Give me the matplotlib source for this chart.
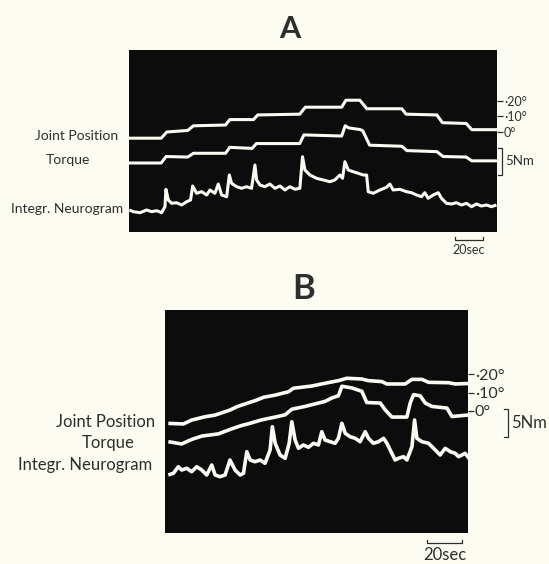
import matplotlib
matplotlib.use("Agg")
import matplotlib.pyplot as plt
import matplotlib.transforms as mtransforms

# ---------------- data ----------------
# Panel A : time in s, joint position in deg, torque in Nm (relative), neurogram in a.u.
a_pos_t = [0, 23, 27, 42, 46, 69, 72, 89, 92, 122, 126, 152, 155, 165, 170, 195, 198, 220, 224, 241, 245, 263]
a_pos_deg = [-4, -4, 0, 1, 4, 4.5, 8, 8, 11, 11.5, 16, 16, 20.5, 20.5, 15, 15, 11.5, 11, 6, 5.5, 1.5, 1.5]

a_trq_t = [0, 23, 26.5, 42, 46, 69, 72, 88, 91, 122, 125, 152, 154.5, 157, 165, 167, 172, 195, 198.5, 220, 224.5, 241, 245, 263]
a_trq_nm = [0, 0, 1.2, 1.1, 1.8, 1.8, 2.9, 2.7, 3.6, 3.6, 5.2, 5.0, 6.9, 6.5, 6.2, 6.0, 3.3, 3.1, 2.3, 2.1, 1.2, 1.1, 0.4, 0.4]

a_neu_t = [0.2, 3.1, 7.9, 12.6, 16.2, 19.8, 23.3, 25.7, 26.4, 28.1, 30.5, 34, 37.6, 41.2, 44, 45.5,
           48.3, 51.9, 55.5, 57.9, 61.4, 63.8, 66.2, 69.8, 71.7, 73.3, 76.9, 80.5, 84, 87.6, 90, 91.2,
           93.6, 97.1, 100.7, 104.3, 107.9, 111.4, 115, 118.6, 122.1, 124, 125.7, 129.3, 134, 138.8,
           143.6, 147.1, 150.7, 152.6, 154.3, 156.7, 160.2, 163.8, 167.4, 169.8, 171, 174.5, 179.3,
           184, 186.4, 188.8, 193.6, 198.3, 201.9, 205.5, 209, 211.4, 213.8, 217.4, 221, 223.3, 226.9,
           230.5, 234, 237.6, 241.2, 244.8, 248.3, 251.9, 255.5, 259, 262.6]
a_neu_au = [5, 3.3, 2.3, 5, 3.3, 4.3, 2.3, 8.3, 25.7, 15, 11.7, 12.3, 10, 13.3, 15, 29,
            21.7, 23.3, 20, 25, 21.7, 31, 20, 18.3, 40, 31.7, 28.3, 26.7, 28.3, 26.7, 50, 35,
            30, 28.3, 31, 26.7, 29, 25, 28.3, 25.7, 26.7, 58.3, 45, 40, 36.7, 35,
            33.3, 35, 40, 36.7, 53.3, 45, 43.3, 41.7, 40, 40, 23.3, 21.7, 25,
            27.7, 31, 25, 25.7, 23.3, 22.3, 20, 18.3, 22.3, 16.7, 20, 22.3, 16.7, 11.7,
            11, 12.3, 10, 11.7, 8.3, 11, 9, 10, 8.3, 10]

# Panel B
b_pos_t = [1.9, 10.5, 15.2, 22.9, 28.6, 37.1, 41, 45.7, 52.4, 56.2, 62.9, 70.5, 73.3, 83.8, 91.4,
           99, 103.8, 112.4, 116.2, 123.8, 126.7, 137.1, 141, 146.7, 150.5, 161.9, 165.7, 174.3]
b_pos_deg = [-6.7, -7, -4.9, -3.1, -2.2, 0.5, 2.3, 3.8, 5.9, 7.4, 8.6, 10.4, 12.3, 13.5, 15,
             16.4, 17.7, 17.3, 16.4, 15.9, 14.6, 14.6, 17.1, 17.1, 15.5, 15.3, 14.6, 14.9]

b_trq_t = [1.9, 9.5, 15.2, 21, 30.5, 38.1, 43.8, 47.6, 55.2, 62.9, 68.6, 72.4, 80, 87.6, 91.4, 95.2,
           99, 101, 106.7, 112.4, 115.2, 122.9, 125.7, 129.5, 138.1, 140, 141.9, 145.7, 148.6,
           152.4, 161, 163.8, 174.3]
b_trq_nm = [0, -0.4, 0.4, 1.0, 1.4, 2.3, 2.9, 3.2, 3.9, 4.4, 4.8, 5.8, 6.3, 6.9, 7.2, 7.8,
            8.2, 9.9, 9.6, 9.0, 7.0, 6.9, 5.7, 4.4, 4.4, 6.9, 8.4, 8.2, 6.9,
            6.3, 6.0, 4.5, 4.8]

b_neu_t = [1.9, 4.8, 7.6, 9.5, 12.4, 15.2, 18.1, 21, 23.8, 26.7, 28.6, 31.4, 34.3, 37.1, 40, 42.9,
           44.8, 46.7, 48.6, 51.4, 54.3, 57.1, 60, 61.3, 62.9, 65.7, 68.6, 70.9, 72.4, 74.3, 76.2,
           79, 81.9, 84.8, 87.6, 89.5, 91.4, 94.3, 97.1, 99, 101, 102.9, 105.7, 108.6, 111.4, 114.3,
           116.2, 119, 121.9, 124.8, 126.7, 129.5, 131.4, 133.3, 136.2, 138.1, 141, 142.5, 143.8,
           146.7, 150.5, 154.3, 157.1, 160, 162.9, 165.7, 167.6, 171.4, 174.3]
b_neu_au = [45, 46.7, 53.3, 50, 51.7, 48.3, 53.3, 50, 45, 55, 45, 43.3, 45, 60, 50, 45,
            46.7, 68.3, 60, 58.3, 60, 56.7, 70, 93.3, 76.7, 65, 61.7, 76.7, 98.3, 80, 71.7,
            75, 72.7, 76.7, 75, 88.3, 80, 78.3, 76.7, 81.7, 96.7, 86.7, 83.3, 81.7, 78.3, 88.3,
            81.7, 76.7, 78.3, 81.7, 76.7, 66.7, 60, 61.7, 63.3, 60, 73.3, 100, 81.7,
            78.3, 76.7, 70, 65, 71.7, 68.3, 66.7, 63.3, 66.7, 60]

angle_ticks = [0, 10, 20]
angle_labels_a = ["0°", "·10°", "·20°"]
angle_labels_b = ["0°", "·10°", "·20°"]
trace_names = ["Joint Position", "Torque", "Integr. Neurogram"]
time_bar_sec = 20
torque_bar_nm = 5

# ---------------- styling ----------------
W, H = 549, 564
BG = "#fcfcf3"
SCREEN = "#0c0c0c"
TRACE = "#fbfaf2"
INK = "#2e2e2e"
FONT = ["Lato", "DejaVu Sans"]
plt.rcParams["font.family"] = FONT

fig = plt.figure(figsize=(W / 100, H / 100), dpi=100, facecolor=BG)


def px_axes(l, t, r, b):
    return fig.add_axes([l / W, 1 - b / H, (r - l) / W, (b - t) / H])


def ftext(x, y, s, **kw):
    fig.text(x / W, 1 - y / H, s, color=INK, **kw)


def panel(box, tmax, pos, trq, neu, gains, lw, tick_labels, tick_fs,
          bracket_x, bracket_y0, nm_fs, bar_t0, bar_dy, sec_fs):
    l, t, r, b = box
    ax = px_axes(l, t, r, b)
    ax.set_facecolor(SCREEN)
    ax.set_xlim(0, tmax)
    ax.set_ylim(0, b - t)
    for s in ax.spines.values():
        s.set_visible(False)
    (p_off, p_g), (q_off, q_g), (n_off, n_g) = gains
    kw = dict(color=TRACE, lw=lw, solid_joinstyle="round", solid_capstyle="butt")
    ax.plot(pos[0], [p_off + p_g * v for v in pos[1]], **kw)
    ax.plot(trq[0], [q_off + q_g * v for v in trq[1]], **kw)
    ax.plot(neu[0], [n_off + n_g * v for v in neu[1]], **kw)
    # angle ticks on the right
    ax.set_xticks([])
    ax.yaxis.tick_right()
    ax.set_yticks([p_off + p_g * a for a in angle_ticks])
    ax.set_yticklabels(tick_labels)
    ax.tick_params(axis="y", length=4, width=0.9, color=INK, pad=1,
                   labelsize=tick_fs, labelcolor=INK)
    # torque calibration bracket
    tr = mtransforms.blended_transform_factory(ax.transAxes, ax.transData)
    y0 = bracket_y0
    y1 = y0 + q_g * torque_bar_nm
    arm = 4.0 / (r - l)
    ax.plot([bracket_x - arm, bracket_x, bracket_x, bracket_x - arm], [y1, y1, y0, y0],
            transform=tr, color=INK, lw=0.9, clip_on=False)
    ax.text(bracket_x + 3.0 / (r - l), (y0 + y1) / 2, "5Nm", transform=tr,
            ha="left", va="center", fontsize=nm_fs, color=INK)
    # time calibration bar
    tr2 = mtransforms.blended_transform_factory(ax.transData, ax.transAxes)
    hgt = b - t
    yb = -bar_dy / hgt
    up = 3.0 / hgt
    ax.plot([bar_t0, bar_t0, bar_t0 + time_bar_sec, bar_t0 + time_bar_sec],
            [yb + up, yb, yb, yb + up], transform=tr2, color=INK, lw=0.9, clip_on=False)
    ax.text(bar_t0 + time_bar_sec / 2, yb - 4.0 / hgt, "20sec", transform=tr2,
            ha="center", va="top", fontsize=sec_fs, color=INK)
    return ax


# Panel A
panel((129, 50, 497, 232), 263,
      (a_pos_t, a_pos_deg), (a_trq_t, a_trq_nm), (a_neu_t, a_neu_au),
      ((100, 1.55), (69, 5.4), (17, 1.0)), 2.2,
      angle_labels_a, 9,
      1.0136, 57, 9.5, 233, 8, 9)
ftext(290, 29, "A", ha="center", va="center", fontsize=22, fontweight="bold")
ftext(118, 136, trace_names[0], ha="right", va="center", fontsize=10)
ftext(90, 160, trace_names[1], ha="right", va="center", fontsize=10)
ftext(123, 209, trace_names[2], ha="right", va="center", fontsize=10)

# Panel B
panel((165, 310, 468, 533), 173,
      (b_pos_t, b_pos_deg), (b_trq_t, b_trq_nm), (b_neu_t, b_neu_au),
      ((122, 1.85), (91.3, 5.6), (13, 1.0)), 2.6,
      angle_labels_b, 11.5,
      1.132, 96, 12, 149.7, 10, 12)
ftext(304, 289, "B", ha="center", va="center", fontsize=25, fontweight="bold")
ftext(155, 422, trace_names[0], ha="right", va="center", fontsize=12)
ftext(135, 443, trace_names[1], ha="right", va="center", fontsize=12)
ftext(152, 465, trace_names[2], ha="right", va="center", fontsize=12)

fig.savefig("out.png", dpi=100, facecolor=BG)
